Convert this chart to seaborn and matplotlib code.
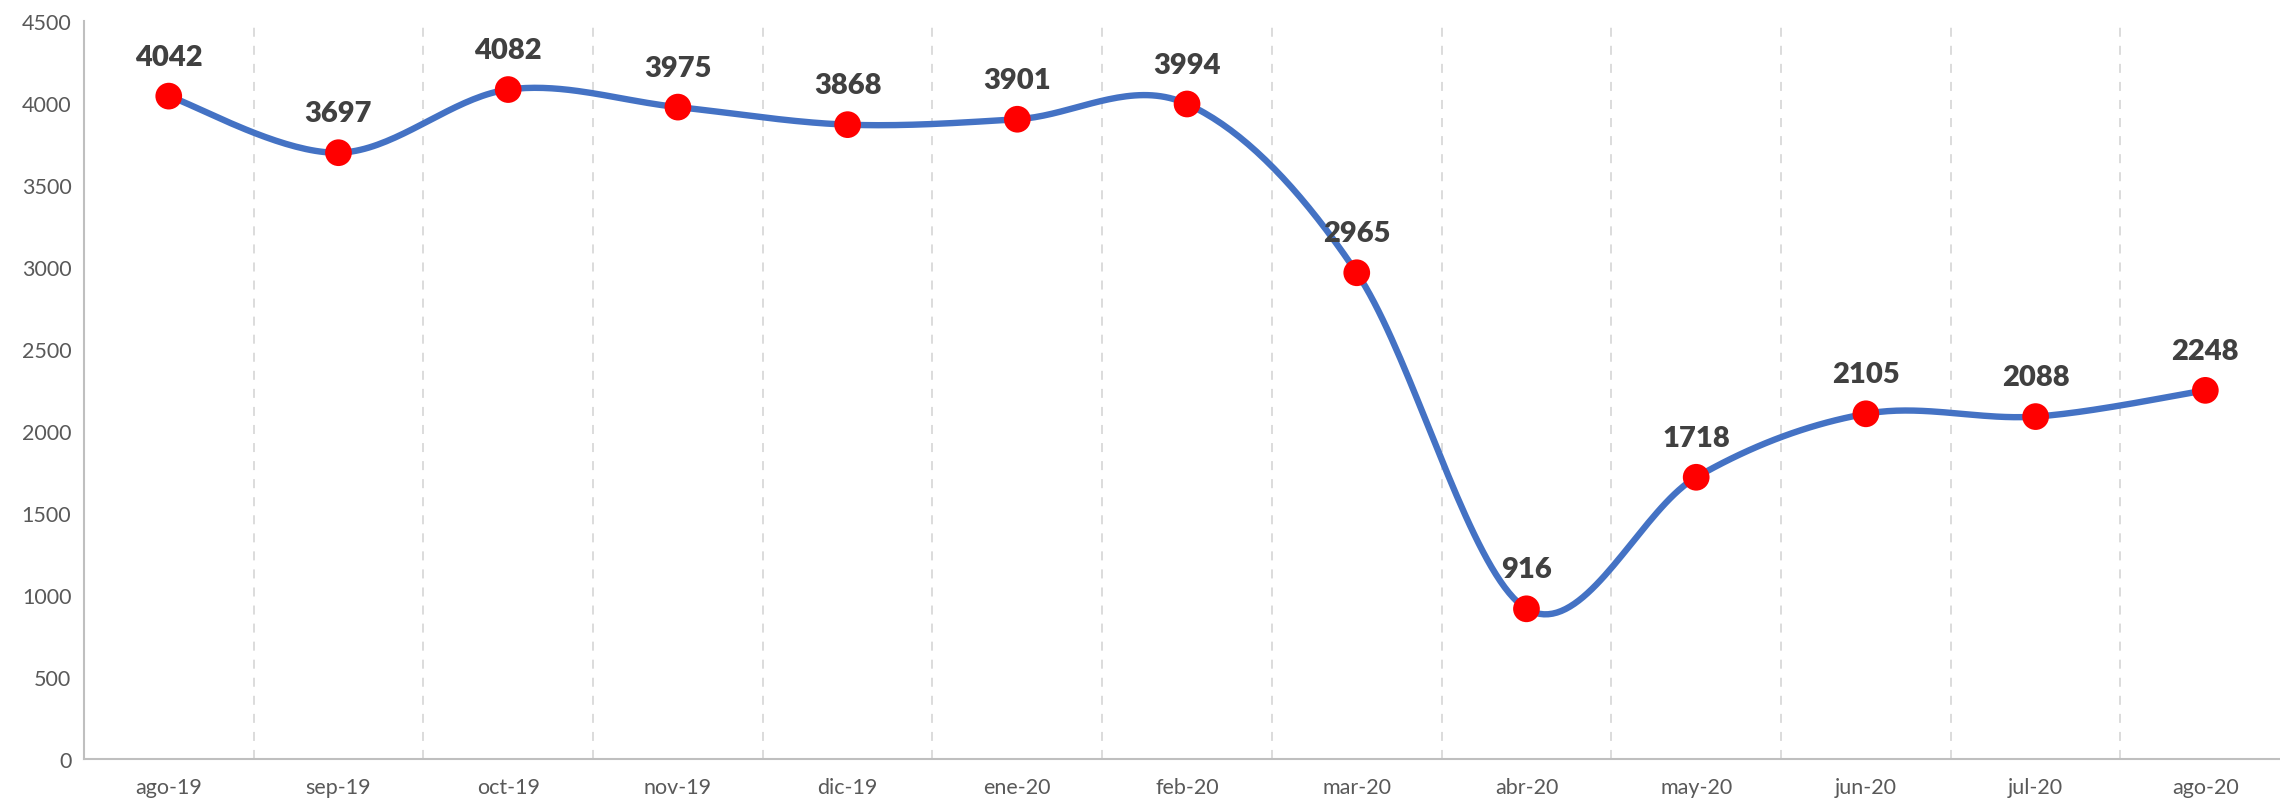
import numpy as np
import pandas as pd
import seaborn as sns
import matplotlib.pyplot as plt

meses = ['ago-19', 'sep-19', 'oct-19', 'nov-19', 'dic-19', 'ene-20', 'feb-20',
         'mar-20', 'abr-20', 'may-20', 'jun-20', 'jul-20', 'ago-20']
valores = [4042, 3697, 4082, 3975, 3868, 3901, 3994, 2965, 916, 1718, 2105, 2088, 2248]

sns.set_style("white")
plt.rcParams['font.family'] = ['Lato', 'DejaVu Sans']


def smooth_curve(x, y, n=40):
    # catmull-rom style smoothing, like the excel "smoothed line"
    x = np.asarray(x, float)
    y = np.asarray(y, float)
    px = np.concatenate([[x[0]], x, [x[-1]]])
    py = np.concatenate([[y[0]], y, [y[-1]]])
    xs, ys = [], []
    for i in range(1, len(px) - 2):
        p0, p1, p2, p3 = (px[i-1], py[i-1]), (px[i], py[i]), (px[i+1], py[i+1]), (px[i+2], py[i+2])
        c1 = (p1[0] + (p2[0] - p0[0]) / 6, p1[1] + (p2[1] - p0[1]) / 6)
        c2 = (p2[0] - (p3[0] - p1[0]) / 6, p2[1] - (p3[1] - p1[1]) / 6)
        t = np.linspace(0, 1, n)
        bx = (1-t)**3*p1[0] + 3*(1-t)**2*t*c1[0] + 3*(1-t)*t**2*c2[0] + t**3*p2[0]
        by = (1-t)**3*p1[1] + 3*(1-t)**2*t*c1[1] + 3*(1-t)*t**2*c2[1] + t**3*p2[1]
        xs.extend(bx)
        ys.extend(by)
    return np.array(xs), np.array(ys)


df = pd.DataFrame({'mes': meses, 'valor': valores, 'pos': np.arange(len(meses))})
sx, sy = smooth_curve(df['pos'], df['valor'])
curve = pd.DataFrame({'x': sx, 'y': sy})

fig = plt.figure(figsize=(22.8, 8.03), dpi=100)
ax = fig.add_axes([0.0368, 0.0535, 1 - 0.0368, 0.9726 - 0.0535])

# dashed separators between months
for i in range(len(meses) - 1):
    ax.axvline(i + 0.5, color='#D9D9D9', linestyle=(0, (5, 5)), linewidth=1.3, zorder=0)

sns.lineplot(data=curve, x='x', y='y', color='#4472C4', linewidth=4.6, sort=False,
             ax=ax, zorder=2)
sns.scatterplot(data=df, x='pos', y='valor', color='#FF0000', s=370, edgecolor='none',
                ax=ax, zorder=3)

for _, r in df.iterrows():
    ax.annotate(str(r['valor']), (r['pos'], r['valor']), xytext=(0, 19),
                textcoords='offset points', ha='center', va='bottom',
                fontsize=21, fontweight='heavy', color='#404040')

ax.set_xlim(-0.5, 12.44)
ax.set_ylim(0, 4500)
ax.set_yticks(np.arange(0, 4501, 500))
ax.set_xticks(df['pos'])
ax.set_xticklabels(meses)
ax.tick_params(axis='both', length=0, labelsize=15.5, colors='#595959')
ax.tick_params(axis='x', pad=13)
ax.tick_params(axis='y', pad=9)
ax.set_xlabel('')
ax.set_ylabel('')
for s in ['top', 'right']:
    ax.spines[s].set_visible(False)
for s in ['left', 'bottom']:
    ax.spines[s].set_color('#BFBFBF')
    ax.spines[s].set_linewidth(1.5)

fig.savefig('out.png', dpi=100)
